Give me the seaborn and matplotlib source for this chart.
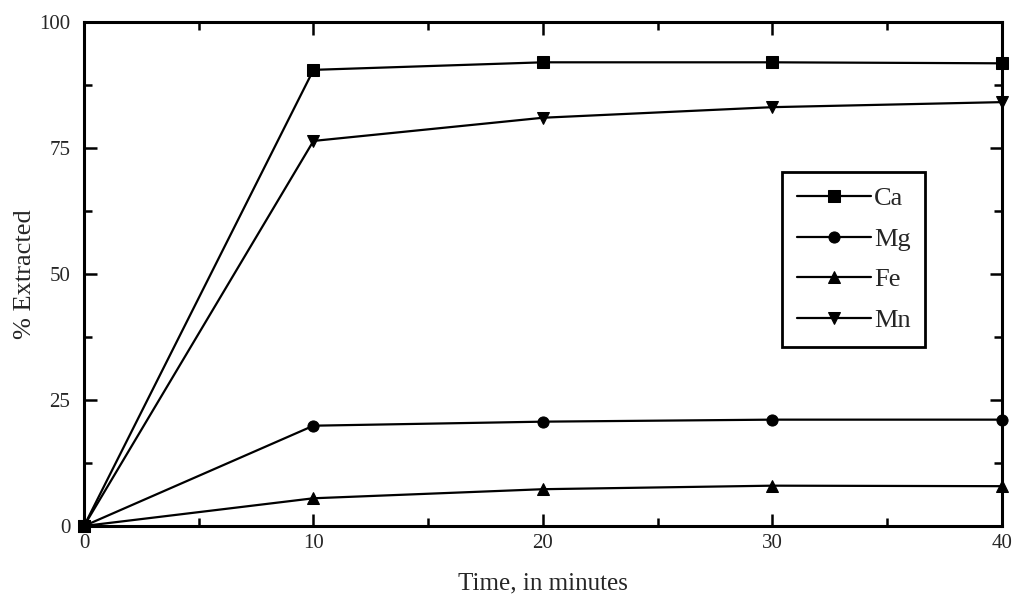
import pandas as pd
import matplotlib
matplotlib.use("Agg")
import matplotlib.pyplot as plt
import seaborn as sns
from matplotlib.ticker import MultipleLocator

time_min = [0, 10, 20, 30, 40]
ca = [0, 90.5, 92.0, 92.0, 91.8]
mg = [0, 19.9, 20.7, 21.1, 21.1]
fe = [0, 5.5, 7.3, 8.0, 7.9]
mn = [0, 76.4, 81.0, 83.1, 84.1]
elements = ["Ca", "Mg", "Fe", "Mn"]

df = pd.DataFrame({"Time": time_min * 4,
                   "Extracted": ca + mg + fe + mn,
                   "Element": [e for e in elements for _ in time_min]})

sns.set_style("ticks")
plt.rcParams["font.family"] = ["Liberation Serif", "DejaVu Serif"]

fig = plt.figure(figsize=(10.16, 6.09), dpi=100)
ax = fig.add_axes([0.0827, 0.1363, 0.9033, 0.8276])

sns.lineplot(data=df, x="Time", y="Extracted", style="Element",
             markers={"Ca": "s", "Mg": "o", "Fe": "^", "Mn": "v"},
             dashes=False, color="black", linewidth=1.6, markersize=8,
             markeredgecolor="black", ax=ax, clip_on=False)

ax.set_xlim(0, 40)
ax.set_ylim(0, 100)
ax.xaxis.set_major_locator(MultipleLocator(10))
ax.xaxis.set_minor_locator(MultipleLocator(5))
ax.yaxis.set_major_locator(MultipleLocator(25))
ax.yaxis.set_minor_locator(MultipleLocator(12.5))
ax.tick_params(which="both", direction="in", top=True, right=True,
               labelsize=15, width=1.8, color="black")
ax.tick_params(axis="y", pad=10)
ax.tick_params(axis="x", pad=6)
ax.tick_params(which="major", length=9)
ax.tick_params(which="minor", length=6)
for s in ax.spines.values():
    s.set_linewidth(2.2)
    s.set_color("black")

ax.set_xlabel("Time, in minutes", fontsize=18, labelpad=14)
ax.set_ylabel("% Extracted", fontsize=19)
ax.yaxis.set_label_coords(-0.052, 0.5)

leg = ax.legend(loc="upper left", bbox_to_anchor=(0.761, 0.702),
                borderaxespad=0, frameon=True, fancybox=False, fontsize=19,
                handlelength=2.8, handletextpad=0.12, labelspacing=0.65,
                borderpad=0.55, numpoints=1)
leg.get_frame().set_edgecolor("black")
leg.get_frame().set_linewidth(2)
leg.get_frame().set_alpha(1)

fig.savefig("out.png", dpi=100)
